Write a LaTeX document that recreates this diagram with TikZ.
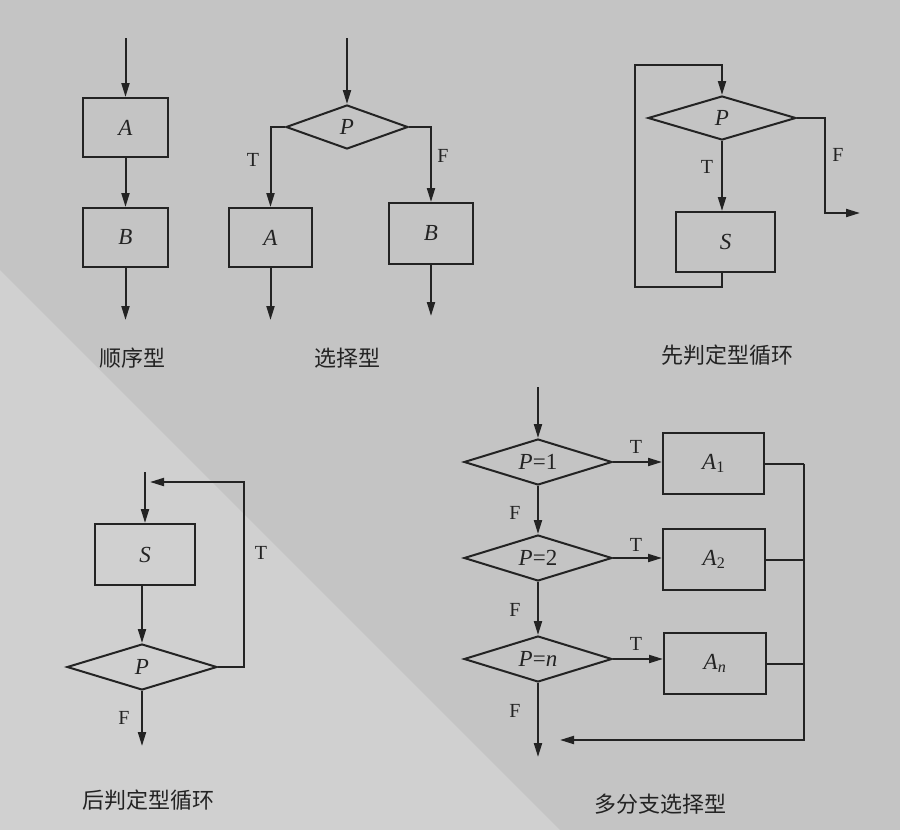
\documentclass[tikz,border=0pt]{standalone}
\usepackage{fontspec}
\setmainfont{Liberation Serif}
\newfontfamily\cjk{Noto Sans CJK SC}
\usetikzlibrary{shapes.geometric,arrows.meta}
\definecolor{paper}{RGB}{196,196,196}
\definecolor{paperlight}{RGB}{208,208,208}
\definecolor{ink}{RGB}{35,35,35}
\tikzset{
  line/.style={draw=ink, line width=2pt},
  arr/.style={line, -{Triangle[length=14pt,width=8pt]}},
  box/.style={draw=ink, line width=2pt, rectangle, inner sep=0pt, text=ink,
    font=\fontsize{23}{23}\selectfont\itshape},
  dia/.style={draw=ink, line width=2pt, diamond, shape aspect=3.2, inner sep=0pt, text=ink,
    font=\fontsize{23}{23}\selectfont},
  lbl/.style={font=\fontsize{20}{20}\selectfont, text=ink},
  capt/.style={font=\cjk\fontsize{22}{22}\selectfont, text=ink}
}
\begin{document}
\begin{tikzpicture}[x=1pt,y=-1pt]
\fill[paper] (0,0) rectangle (900,830);
\fill[paperlight] (0,270) -- (560,830) -- (0,830) -- cycle;
\useasboundingbox (0,0) rectangle (900,830);

% ---------- sequence ----------
\coordinate (sin) at (125.5,38);
\node[box, minimum width=85pt, minimum height=59pt] (sA) at (125.5,127.5) {A};
\node[box, minimum width=85pt, minimum height=59pt] (sB) at (125.5,237.5) {B};
\coordinate (sout) at (125.5,320);
\draw[arr] (sin) -- (sA.north);
\draw[arr] (sA.south) -- (sB.north);
\draw[arr] (sB.south) -- (sout);
\node[capt] (cap1) at (132,358) {顺序型};

% ---------- selection ----------
\coordinate (xin) at (347,38);
\node[dia, minimum width=122pt, minimum height=44pt] (xP) at (347,127) {\itshape P};
\node[box, minimum width=83pt, minimum height=59pt] (xA) at (270.5,237.5) {A};
\node[box, minimum width=84pt, minimum height=61pt] (xB) at (431,233.5) {B};
\coordinate (xoutA) at (270.5,320);
\coordinate (xoutB) at (431,316);
\draw[arr] (xin) -- (xP.north);
\draw[arr] (xP.west) -| (xA.north);
\draw[arr] (xP.east) -| (xB.north);
\draw[arr] (xA.south) -- (xoutA);
\draw[arr] (xB.south) -- (xoutB);
\node[lbl] (xT) at (253,160) {T};
\node[lbl] (xF) at (443,156) {F};
\node[capt] (cap2) at (347,358) {选择型};

% ---------- pre-test loop ----------
\node[dia, minimum width=148pt, minimum height=44pt] (wP) at (722,118) {\itshape P};
\node[box, minimum width=99pt, minimum height=60pt] (wS) at (725.5,242) {S};
\coordinate (wl1) at (635,287);
\coordinate (wl2) at (722,65);
\coordinate (wf1) at (825,118);
\coordinate (wout) at (860,213);
\draw[arr] (wP.south) -- (wP.south |- wS.north);
\draw[arr] (wP.south |- wS.south) |- (wl1) -- (wl1 |- wl2) -- (wl2) -- (wP.north);
\draw[arr] (wP.east) -- (wf1) |- (wout);
\node[lbl] (wT) at (707,167) {T};
\node[lbl] (wF) at (838,155) {F};
\node[capt] (cap3) at (727,355) {先判定型循环};

% ---------- post-test loop ----------
\coordinate (uin) at (145,472);
\node[box, minimum width=100pt, minimum height=61pt] (uS) at (145,554.5) {S};
\node[dia, minimum width=150pt, minimum height=46pt] (uP) at (142,667) {\itshape P};
\coordinate (ut1) at (244,482);
\coordinate (ut2) at (150,482);
\coordinate (uout) at (142,746);
\draw[arr] (uin) -- (uS.north);
\draw[arr] (uS.south -| uP.north) -- (uP.north);
\draw[arr] (uP.east) -| (ut1) -- (ut2);
\draw[arr] (uP.south) -- (uout);
\node[lbl] (uT) at (261,553) {T};
\node[lbl] (uF) at (124,718) {F};
\node[capt] (cap4) at (148,800) {后判定型循环};

% ---------- multi-branch ----------
\coordinate (min) at (538,387);
\node[dia, minimum width=148pt, minimum height=46pt] (m1) at (538,462) {{\itshape P}=1};
\node[dia, minimum width=148pt, minimum height=46pt] (m2) at (538,558) {{\itshape P}=2};
\node[dia, minimum width=148pt, minimum height=46pt] (mn) at (538,659) {{\itshape P}={\itshape n}};
\node[box, minimum width=101pt, minimum height=61pt] (a1) at (713.5,463.5) {A\textsubscript{\upshape 1}};
\node[box, minimum width=102pt, minimum height=61pt] (a2) at (714,559.5) {A\textsubscript{\upshape 2}};
\node[box, minimum width=102pt, minimum height=61pt] (an) at (715,663.5) {A\textsubscript{n}};
\coordinate (mr) at (804,740);
\coordinate (mend) at (560,740);
\coordinate (mout) at (538,757);
\draw[arr] (min) -- (m1.north);
\draw[arr] (m1.south) -- (m2.north);
\draw[arr] (m2.south) -- (mn.north);
\draw[arr] (mn.south) -- (mout);
\draw[arr] (m1.east) -- (m1.east -| a1.west);
\draw[arr] (m2.east) -- (m2.east -| a2.west);
\draw[arr] (mn.east) -- (mn.east -| an.west);
\draw[line] (a1.east) -- (a1.east -| mr);
\draw[line] (a2.east) -- (a2.east -| mr);
\draw[line] (an.east) -- (an.east -| mr);
\draw[arr] (a1.east -| mr) -- (mr) -- (mend);
\node[lbl] (mT1) at (636,447) {T};
\node[lbl] (mT2) at (636,545) {T};
\node[lbl] (mT3) at (636,644) {T};
\node[lbl] (mF1) at (515,513) {F};
\node[lbl] (mF2) at (515,610) {F};
\node[lbl] (mF3) at (515,711) {F};
\node[capt] (cap5) at (660,804) {多分支选择型};
\end{tikzpicture}
\end{document}
